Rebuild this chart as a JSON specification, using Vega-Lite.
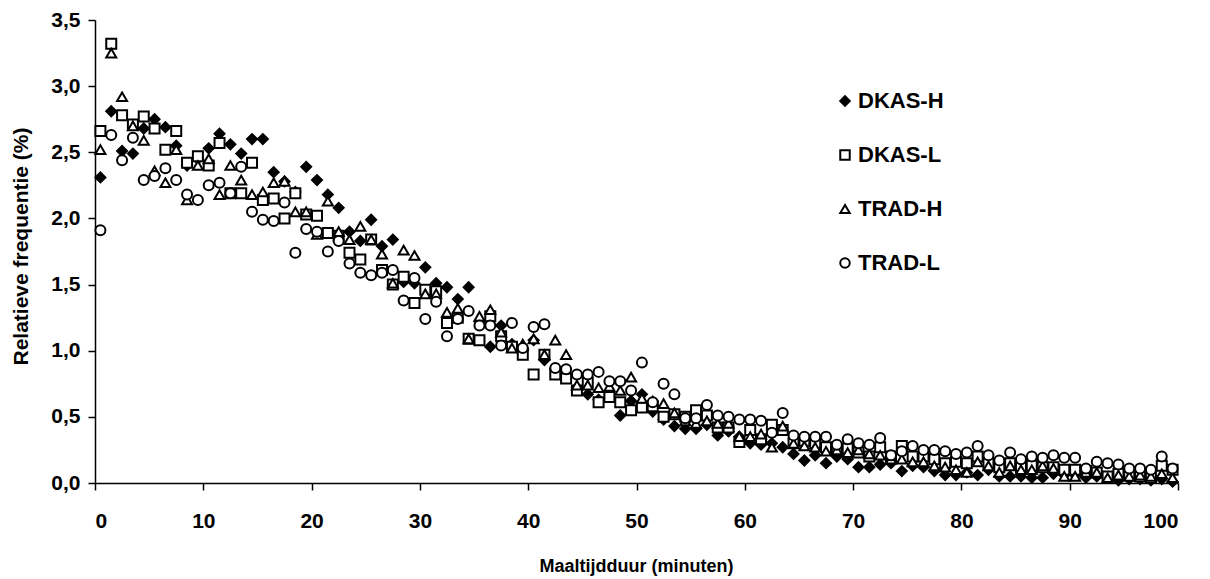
{
  "$schema": "https://vega.github.io/schema/vega-lite/v6.json",
  "autosize": {"type": "none"},
  "padding": {"left": 95, "top": 20, "right": 32, "bottom": 96},
  "width": 1083,
  "height": 463,
  "background": "white",
  "config": {
    "view": {"stroke": null},
    "font": "Liberation Sans",
    "axis": {"grid": false, "domainColor": "black", "tickColor": "black", "domainWidth": 1.5, "tickWidth": 1.5, "labelColor": "black", "titleColor": "black", "labelFontWeight": "bold", "titleFontWeight": "bold", "labelFont": "Liberation Sans", "titleFont": "Liberation Sans"},
    "legend": {"title": null, "orient": "none", "legendX": 739, "legendY": 70, "labelFont": "Liberation Sans", "labelFontSize": 22, "labelFontWeight": "bold", "labelColor": "black", "rowPadding": 32, "symbolSize": 90, "symbolStrokeWidth": 2, "labelOffset": 2}
  },
  "datasets": {
    "punten": [
      {"serie":"DKAS-H","minuut":0.5,"freq":2.31},{"serie":"DKAS-H","minuut":1.5,"freq":2.81},{"serie":"DKAS-H","minuut":2.5,"freq":2.51},{"serie":"DKAS-H","minuut":3.5,"freq":2.49},{"serie":"DKAS-H","minuut":4.5,"freq":2.68},{"serie":"DKAS-H","minuut":5.5,"freq":2.75},{"serie":"DKAS-H","minuut":6.5,"freq":2.69},{"serie":"DKAS-H","minuut":7.5,"freq":2.55},{"serie":"DKAS-H","minuut":8.5,"freq":2.40},{"serie":"DKAS-H","minuut":9.5,"freq":2.45},
      {"serie":"DKAS-H","minuut":10.5,"freq":2.53},{"serie":"DKAS-H","minuut":11.5,"freq":2.64},{"serie":"DKAS-H","minuut":12.5,"freq":2.56},{"serie":"DKAS-H","minuut":13.5,"freq":2.49},{"serie":"DKAS-H","minuut":14.5,"freq":2.60},{"serie":"DKAS-H","minuut":15.5,"freq":2.60},{"serie":"DKAS-H","minuut":16.5,"freq":2.35},{"serie":"DKAS-H","minuut":17.5,"freq":2.28},{"serie":"DKAS-H","minuut":18.5,"freq":2.20},{"serie":"DKAS-H","minuut":19.5,"freq":2.39},
      {"serie":"DKAS-H","minuut":20.5,"freq":2.29},{"serie":"DKAS-H","minuut":21.5,"freq":2.18},{"serie":"DKAS-H","minuut":22.5,"freq":2.08},{"serie":"DKAS-H","minuut":23.5,"freq":1.90},{"serie":"DKAS-H","minuut":24.5,"freq":1.83},{"serie":"DKAS-H","minuut":25.5,"freq":1.99},{"serie":"DKAS-H","minuut":26.5,"freq":1.79},{"serie":"DKAS-H","minuut":27.5,"freq":1.84},{"serie":"DKAS-H","minuut":28.5,"freq":1.52},{"serie":"DKAS-H","minuut":29.5,"freq":1.51},
      {"serie":"DKAS-H","minuut":30.5,"freq":1.63},{"serie":"DKAS-H","minuut":31.5,"freq":1.51},{"serie":"DKAS-H","minuut":32.5,"freq":1.48},{"serie":"DKAS-H","minuut":33.5,"freq":1.39},{"serie":"DKAS-H","minuut":34.5,"freq":1.48},{"serie":"DKAS-H","minuut":35.5,"freq":1.22},{"serie":"DKAS-H","minuut":36.5,"freq":1.03},{"serie":"DKAS-H","minuut":37.5,"freq":1.19},{"serie":"DKAS-H","minuut":38.5,"freq":1.05},{"serie":"DKAS-H","minuut":39.5,"freq":1.00},
      {"serie":"DKAS-H","minuut":40.5,"freq":1.08},{"serie":"DKAS-H","minuut":41.5,"freq":0.93},{"serie":"DKAS-H","minuut":42.5,"freq":0.86},{"serie":"DKAS-H","minuut":43.5,"freq":0.80},{"serie":"DKAS-H","minuut":44.5,"freq":0.72},{"serie":"DKAS-H","minuut":45.5,"freq":0.67},{"serie":"DKAS-H","minuut":46.5,"freq":0.63},{"serie":"DKAS-H","minuut":47.5,"freq":0.67},{"serie":"DKAS-H","minuut":48.5,"freq":0.51},{"serie":"DKAS-H","minuut":49.5,"freq":0.62},
      {"serie":"DKAS-H","minuut":50.5,"freq":0.67},{"serie":"DKAS-H","minuut":51.5,"freq":0.54},{"serie":"DKAS-H","minuut":52.5,"freq":0.48},{"serie":"DKAS-H","minuut":53.5,"freq":0.43},{"serie":"DKAS-H","minuut":54.5,"freq":0.41},{"serie":"DKAS-H","minuut":55.5,"freq":0.41},{"serie":"DKAS-H","minuut":56.5,"freq":0.44},{"serie":"DKAS-H","minuut":57.5,"freq":0.36},{"serie":"DKAS-H","minuut":58.5,"freq":0.39},{"serie":"DKAS-H","minuut":59.5,"freq":0.35},
      {"serie":"DKAS-H","minuut":60.5,"freq":0.30},{"serie":"DKAS-H","minuut":61.5,"freq":0.29},{"serie":"DKAS-H","minuut":62.5,"freq":0.30},{"serie":"DKAS-H","minuut":63.5,"freq":0.27},{"serie":"DKAS-H","minuut":64.5,"freq":0.22},{"serie":"DKAS-H","minuut":65.5,"freq":0.17},{"serie":"DKAS-H","minuut":66.5,"freq":0.21},{"serie":"DKAS-H","minuut":67.5,"freq":0.15},{"serie":"DKAS-H","minuut":68.5,"freq":0.20},{"serie":"DKAS-H","minuut":69.5,"freq":0.18},
      {"serie":"DKAS-H","minuut":70.5,"freq":0.12},{"serie":"DKAS-H","minuut":71.5,"freq":0.12},{"serie":"DKAS-H","minuut":72.5,"freq":0.14},{"serie":"DKAS-H","minuut":73.5,"freq":0.15},{"serie":"DKAS-H","minuut":74.5,"freq":0.09},{"serie":"DKAS-H","minuut":75.5,"freq":0.13},{"serie":"DKAS-H","minuut":76.5,"freq":0.12},{"serie":"DKAS-H","minuut":77.5,"freq":0.09},{"serie":"DKAS-H","minuut":78.5,"freq":0.06},{"serie":"DKAS-H","minuut":79.5,"freq":0.06},
      {"serie":"DKAS-H","minuut":80.5,"freq":0.08},{"serie":"DKAS-H","minuut":81.5,"freq":0.06},{"serie":"DKAS-H","minuut":82.5,"freq":0.10},{"serie":"DKAS-H","minuut":83.5,"freq":0.05},{"serie":"DKAS-H","minuut":84.5,"freq":0.05},{"serie":"DKAS-H","minuut":85.5,"freq":0.05},{"serie":"DKAS-H","minuut":86.5,"freq":0.04},{"serie":"DKAS-H","minuut":87.5,"freq":0.04},{"serie":"DKAS-H","minuut":88.5,"freq":0.07},{"serie":"DKAS-H","minuut":89.5,"freq":0.06},
      {"serie":"DKAS-H","minuut":90.5,"freq":0.06},{"serie":"DKAS-H","minuut":91.5,"freq":0.04},{"serie":"DKAS-H","minuut":92.5,"freq":0.05},{"serie":"DKAS-H","minuut":93.5,"freq":0.04},{"serie":"DKAS-H","minuut":94.5,"freq":0.02},{"serie":"DKAS-H","minuut":95.5,"freq":0.03},{"serie":"DKAS-H","minuut":96.5,"freq":0.03},{"serie":"DKAS-H","minuut":97.5,"freq":0.02},{"serie":"DKAS-H","minuut":98.5,"freq":0.03},{"serie":"DKAS-H","minuut":99.5,"freq":0.01},

      {"serie":"DKAS-L","minuut":0.5,"freq":2.66},{"serie":"DKAS-L","minuut":1.5,"freq":3.32},{"serie":"DKAS-L","minuut":2.5,"freq":2.78},{"serie":"DKAS-L","minuut":3.5,"freq":2.71},{"serie":"DKAS-L","minuut":4.5,"freq":2.77},{"serie":"DKAS-L","minuut":5.5,"freq":2.68},{"serie":"DKAS-L","minuut":6.5,"freq":2.52},{"serie":"DKAS-L","minuut":7.5,"freq":2.66},{"serie":"DKAS-L","minuut":8.5,"freq":2.42},{"serie":"DKAS-L","minuut":9.5,"freq":2.47},
      {"serie":"DKAS-L","minuut":10.5,"freq":2.40},{"serie":"DKAS-L","minuut":11.5,"freq":2.57},{"serie":"DKAS-L","minuut":12.5,"freq":2.19},{"serie":"DKAS-L","minuut":13.5,"freq":2.19},{"serie":"DKAS-L","minuut":14.5,"freq":2.42},{"serie":"DKAS-L","minuut":15.5,"freq":2.14},{"serie":"DKAS-L","minuut":16.5,"freq":2.15},{"serie":"DKAS-L","minuut":17.5,"freq":2.00},{"serie":"DKAS-L","minuut":18.5,"freq":2.19},{"serie":"DKAS-L","minuut":19.5,"freq":2.03},
      {"serie":"DKAS-L","minuut":20.5,"freq":2.02},{"serie":"DKAS-L","minuut":21.5,"freq":1.89},{"serie":"DKAS-L","minuut":22.5,"freq":1.87},{"serie":"DKAS-L","minuut":23.5,"freq":1.74},{"serie":"DKAS-L","minuut":24.5,"freq":1.69},{"serie":"DKAS-L","minuut":25.5,"freq":1.84},{"serie":"DKAS-L","minuut":26.5,"freq":1.61},{"serie":"DKAS-L","minuut":27.5,"freq":1.50},{"serie":"DKAS-L","minuut":28.5,"freq":1.56},{"serie":"DKAS-L","minuut":29.5,"freq":1.36},
      {"serie":"DKAS-L","minuut":30.5,"freq":1.46},{"serie":"DKAS-L","minuut":31.5,"freq":1.45},{"serie":"DKAS-L","minuut":32.5,"freq":1.21},{"serie":"DKAS-L","minuut":33.5,"freq":1.25},{"serie":"DKAS-L","minuut":34.5,"freq":1.09},{"serie":"DKAS-L","minuut":35.5,"freq":1.08},{"serie":"DKAS-L","minuut":36.5,"freq":1.26},{"serie":"DKAS-L","minuut":37.5,"freq":1.11},{"serie":"DKAS-L","minuut":38.5,"freq":1.03},{"serie":"DKAS-L","minuut":39.5,"freq":0.97},
      {"serie":"DKAS-L","minuut":40.5,"freq":0.82},{"serie":"DKAS-L","minuut":41.5,"freq":0.97},{"serie":"DKAS-L","minuut":42.5,"freq":0.82},{"serie":"DKAS-L","minuut":43.5,"freq":0.79},{"serie":"DKAS-L","minuut":44.5,"freq":0.70},{"serie":"DKAS-L","minuut":45.5,"freq":0.76},{"serie":"DKAS-L","minuut":46.5,"freq":0.61},{"serie":"DKAS-L","minuut":47.5,"freq":0.65},{"serie":"DKAS-L","minuut":48.5,"freq":0.61},{"serie":"DKAS-L","minuut":49.5,"freq":0.55},
      {"serie":"DKAS-L","minuut":50.5,"freq":0.57},{"serie":"DKAS-L","minuut":51.5,"freq":0.58},{"serie":"DKAS-L","minuut":52.5,"freq":0.50},{"serie":"DKAS-L","minuut":53.5,"freq":0.52},{"serie":"DKAS-L","minuut":54.5,"freq":0.50},{"serie":"DKAS-L","minuut":55.5,"freq":0.55},{"serie":"DKAS-L","minuut":56.5,"freq":0.51},{"serie":"DKAS-L","minuut":57.5,"freq":0.42},{"serie":"DKAS-L","minuut":58.5,"freq":0.42},{"serie":"DKAS-L","minuut":59.5,"freq":0.31},
      {"serie":"DKAS-L","minuut":60.5,"freq":0.40},{"serie":"DKAS-L","minuut":61.5,"freq":0.33},{"serie":"DKAS-L","minuut":62.5,"freq":0.44},{"serie":"DKAS-L","minuut":63.5,"freq":0.40},{"serie":"DKAS-L","minuut":64.5,"freq":0.30},{"serie":"DKAS-L","minuut":65.5,"freq":0.32},{"serie":"DKAS-L","minuut":66.5,"freq":0.30},{"serie":"DKAS-L","minuut":67.5,"freq":0.27},{"serie":"DKAS-L","minuut":68.5,"freq":0.25},{"serie":"DKAS-L","minuut":69.5,"freq":0.26},
      {"serie":"DKAS-L","minuut":70.5,"freq":0.23},{"serie":"DKAS-L","minuut":71.5,"freq":0.20},{"serie":"DKAS-L","minuut":72.5,"freq":0.27},{"serie":"DKAS-L","minuut":73.5,"freq":0.20},{"serie":"DKAS-L","minuut":74.5,"freq":0.28},{"serie":"DKAS-L","minuut":75.5,"freq":0.20},{"serie":"DKAS-L","minuut":76.5,"freq":0.20},{"serie":"DKAS-L","minuut":77.5,"freq":0.18},{"serie":"DKAS-L","minuut":78.5,"freq":0.15},{"serie":"DKAS-L","minuut":79.5,"freq":0.16},
      {"serie":"DKAS-L","minuut":80.5,"freq":0.15},{"serie":"DKAS-L","minuut":81.5,"freq":0.20},{"serie":"DKAS-L","minuut":82.5,"freq":0.15},{"serie":"DKAS-L","minuut":83.5,"freq":0.12},{"serie":"DKAS-L","minuut":84.5,"freq":0.15},{"serie":"DKAS-L","minuut":85.5,"freq":0.12},{"serie":"DKAS-L","minuut":86.5,"freq":0.13},{"serie":"DKAS-L","minuut":87.5,"freq":0.12},{"serie":"DKAS-L","minuut":88.5,"freq":0.12},{"serie":"DKAS-L","minuut":89.5,"freq":0.10},
      {"serie":"DKAS-L","minuut":90.5,"freq":0.10},{"serie":"DKAS-L","minuut":91.5,"freq":0.09},{"serie":"DKAS-L","minuut":92.5,"freq":0.08},{"serie":"DKAS-L","minuut":93.5,"freq":0.05},{"serie":"DKAS-L","minuut":94.5,"freq":0.07},{"serie":"DKAS-L","minuut":95.5,"freq":0.06},{"serie":"DKAS-L","minuut":96.5,"freq":0.05},{"serie":"DKAS-L","minuut":97.5,"freq":0.04},{"serie":"DKAS-L","minuut":98.5,"freq":0.13},{"serie":"DKAS-L","minuut":99.5,"freq":0.10},

      {"serie":"TRAD-H","minuut":0.5,"freq":2.52},{"serie":"TRAD-H","minuut":1.5,"freq":3.25},{"serie":"TRAD-H","minuut":2.5,"freq":2.92},{"serie":"TRAD-H","minuut":3.5,"freq":2.70},{"serie":"TRAD-H","minuut":4.5,"freq":2.59},{"serie":"TRAD-H","minuut":5.5,"freq":2.36},{"serie":"TRAD-H","minuut":6.5,"freq":2.27},{"serie":"TRAD-H","minuut":7.5,"freq":2.52},{"serie":"TRAD-H","minuut":8.5,"freq":2.14},{"serie":"TRAD-H","minuut":9.5,"freq":2.40},
      {"serie":"TRAD-H","minuut":10.5,"freq":2.45},{"serie":"TRAD-H","minuut":11.5,"freq":2.18},{"serie":"TRAD-H","minuut":12.5,"freq":2.40},{"serie":"TRAD-H","minuut":13.5,"freq":2.29},{"serie":"TRAD-H","minuut":14.5,"freq":2.18},{"serie":"TRAD-H","minuut":15.5,"freq":2.20},{"serie":"TRAD-H","minuut":16.5,"freq":2.27},{"serie":"TRAD-H","minuut":17.5,"freq":2.28},{"serie":"TRAD-H","minuut":18.5,"freq":2.05},{"serie":"TRAD-H","minuut":19.5,"freq":2.05},
      {"serie":"TRAD-H","minuut":20.5,"freq":1.88},{"serie":"TRAD-H","minuut":21.5,"freq":2.13},{"serie":"TRAD-H","minuut":22.5,"freq":1.90},{"serie":"TRAD-H","minuut":23.5,"freq":1.84},{"serie":"TRAD-H","minuut":24.5,"freq":1.94},{"serie":"TRAD-H","minuut":25.5,"freq":1.84},{"serie":"TRAD-H","minuut":26.5,"freq":1.73},{"serie":"TRAD-H","minuut":27.5,"freq":1.51},{"serie":"TRAD-H","minuut":28.5,"freq":1.76},{"serie":"TRAD-H","minuut":29.5,"freq":1.72},
      {"serie":"TRAD-H","minuut":30.5,"freq":1.43},{"serie":"TRAD-H","minuut":31.5,"freq":1.43},{"serie":"TRAD-H","minuut":32.5,"freq":1.29},{"serie":"TRAD-H","minuut":33.5,"freq":1.32},{"serie":"TRAD-H","minuut":34.5,"freq":1.09},{"serie":"TRAD-H","minuut":35.5,"freq":1.26},{"serie":"TRAD-H","minuut":36.5,"freq":1.31},{"serie":"TRAD-H","minuut":37.5,"freq":1.14},{"serie":"TRAD-H","minuut":38.5,"freq":1.02},{"serie":"TRAD-H","minuut":39.5,"freq":1.05},
      {"serie":"TRAD-H","minuut":40.5,"freq":1.09},{"serie":"TRAD-H","minuut":41.5,"freq":0.97},{"serie":"TRAD-H","minuut":42.5,"freq":1.08},{"serie":"TRAD-H","minuut":43.5,"freq":0.97},{"serie":"TRAD-H","minuut":44.5,"freq":0.74},{"serie":"TRAD-H","minuut":45.5,"freq":0.74},{"serie":"TRAD-H","minuut":46.5,"freq":0.72},{"serie":"TRAD-H","minuut":47.5,"freq":0.73},{"serie":"TRAD-H","minuut":48.5,"freq":0.70},{"serie":"TRAD-H","minuut":49.5,"freq":0.80},
      {"serie":"TRAD-H","minuut":50.5,"freq":0.64},{"serie":"TRAD-H","minuut":51.5,"freq":0.62},{"serie":"TRAD-H","minuut":52.5,"freq":0.60},{"serie":"TRAD-H","minuut":53.5,"freq":0.53},{"serie":"TRAD-H","minuut":54.5,"freq":0.47},{"serie":"TRAD-H","minuut":55.5,"freq":0.45},{"serie":"TRAD-H","minuut":56.5,"freq":0.47},{"serie":"TRAD-H","minuut":57.5,"freq":0.45},{"serie":"TRAD-H","minuut":58.5,"freq":0.45},{"serie":"TRAD-H","minuut":59.5,"freq":0.35},
      {"serie":"TRAD-H","minuut":60.5,"freq":0.35},{"serie":"TRAD-H","minuut":61.5,"freq":0.37},{"serie":"TRAD-H","minuut":62.5,"freq":0.27},{"serie":"TRAD-H","minuut":63.5,"freq":0.43},{"serie":"TRAD-H","minuut":64.5,"freq":0.30},{"serie":"TRAD-H","minuut":65.5,"freq":0.28},{"serie":"TRAD-H","minuut":66.5,"freq":0.27},{"serie":"TRAD-H","minuut":67.5,"freq":0.24},{"serie":"TRAD-H","minuut":68.5,"freq":0.25},{"serie":"TRAD-H","minuut":69.5,"freq":0.23},
      {"serie":"TRAD-H","minuut":70.5,"freq":0.25},{"serie":"TRAD-H","minuut":71.5,"freq":0.22},{"serie":"TRAD-H","minuut":72.5,"freq":0.21},{"serie":"TRAD-H","minuut":73.5,"freq":0.18},{"serie":"TRAD-H","minuut":74.5,"freq":0.18},{"serie":"TRAD-H","minuut":75.5,"freq":0.16},{"serie":"TRAD-H","minuut":76.5,"freq":0.16},{"serie":"TRAD-H","minuut":77.5,"freq":0.13},{"serie":"TRAD-H","minuut":78.5,"freq":0.12},{"serie":"TRAD-H","minuut":79.5,"freq":0.10},
      {"serie":"TRAD-H","minuut":80.5,"freq":0.08},{"serie":"TRAD-H","minuut":81.5,"freq":0.16},{"serie":"TRAD-H","minuut":82.5,"freq":0.13},{"serie":"TRAD-H","minuut":83.5,"freq":0.08},{"serie":"TRAD-H","minuut":84.5,"freq":0.13},{"serie":"TRAD-H","minuut":85.5,"freq":0.10},{"serie":"TRAD-H","minuut":86.5,"freq":0.10},{"serie":"TRAD-H","minuut":87.5,"freq":0.13},{"serie":"TRAD-H","minuut":88.5,"freq":0.11},{"serie":"TRAD-H","minuut":89.5,"freq":0.05},
      {"serie":"TRAD-H","minuut":90.5,"freq":0.05},{"serie":"TRAD-H","minuut":91.5,"freq":0.08},{"serie":"TRAD-H","minuut":92.5,"freq":0.08},{"serie":"TRAD-H","minuut":93.5,"freq":0.04},{"serie":"TRAD-H","minuut":94.5,"freq":0.06},{"serie":"TRAD-H","minuut":95.5,"freq":0.05},{"serie":"TRAD-H","minuut":96.5,"freq":0.06},{"serie":"TRAD-H","minuut":97.5,"freq":0.05},{"serie":"TRAD-H","minuut":98.5,"freq":0.07},{"serie":"TRAD-H","minuut":99.5,"freq":0.04},

      {"serie":"TRAD-L","minuut":0.5,"freq":1.91},{"serie":"TRAD-L","minuut":1.5,"freq":2.63},{"serie":"TRAD-L","minuut":2.5,"freq":2.44},{"serie":"TRAD-L","minuut":3.5,"freq":2.61},{"serie":"TRAD-L","minuut":4.5,"freq":2.29},{"serie":"TRAD-L","minuut":5.5,"freq":2.32},{"serie":"TRAD-L","minuut":6.5,"freq":2.38},{"serie":"TRAD-L","minuut":7.5,"freq":2.29},{"serie":"TRAD-L","minuut":8.5,"freq":2.18},{"serie":"TRAD-L","minuut":9.5,"freq":2.14},
      {"serie":"TRAD-L","minuut":10.5,"freq":2.25},{"serie":"TRAD-L","minuut":11.5,"freq":2.27},{"serie":"TRAD-L","minuut":12.5,"freq":2.19},{"serie":"TRAD-L","minuut":13.5,"freq":2.39},{"serie":"TRAD-L","minuut":14.5,"freq":2.05},{"serie":"TRAD-L","minuut":15.5,"freq":1.99},{"serie":"TRAD-L","minuut":16.5,"freq":1.98},{"serie":"TRAD-L","minuut":17.5,"freq":2.12},{"serie":"TRAD-L","minuut":18.5,"freq":1.74},{"serie":"TRAD-L","minuut":19.5,"freq":1.92},
      {"serie":"TRAD-L","minuut":20.5,"freq":1.90},{"serie":"TRAD-L","minuut":21.5,"freq":1.75},{"serie":"TRAD-L","minuut":22.5,"freq":1.83},{"serie":"TRAD-L","minuut":23.5,"freq":1.66},{"serie":"TRAD-L","minuut":24.5,"freq":1.59},{"serie":"TRAD-L","minuut":25.5,"freq":1.57},{"serie":"TRAD-L","minuut":26.5,"freq":1.59},{"serie":"TRAD-L","minuut":27.5,"freq":1.61},{"serie":"TRAD-L","minuut":28.5,"freq":1.38},{"serie":"TRAD-L","minuut":29.5,"freq":1.55},
      {"serie":"TRAD-L","minuut":30.5,"freq":1.24},{"serie":"TRAD-L","minuut":31.5,"freq":1.37},{"serie":"TRAD-L","minuut":32.5,"freq":1.11},{"serie":"TRAD-L","minuut":33.5,"freq":1.24},{"serie":"TRAD-L","minuut":34.5,"freq":1.30},{"serie":"TRAD-L","minuut":35.5,"freq":1.19},{"serie":"TRAD-L","minuut":36.5,"freq":1.19},{"serie":"TRAD-L","minuut":37.5,"freq":1.04},{"serie":"TRAD-L","minuut":38.5,"freq":1.21},{"serie":"TRAD-L","minuut":39.5,"freq":1.02},
      {"serie":"TRAD-L","minuut":40.5,"freq":1.18},{"serie":"TRAD-L","minuut":41.5,"freq":1.20},{"serie":"TRAD-L","minuut":42.5,"freq":0.87},{"serie":"TRAD-L","minuut":43.5,"freq":0.86},{"serie":"TRAD-L","minuut":44.5,"freq":0.82},{"serie":"TRAD-L","minuut":45.5,"freq":0.82},{"serie":"TRAD-L","minuut":46.5,"freq":0.84},{"serie":"TRAD-L","minuut":47.5,"freq":0.77},{"serie":"TRAD-L","minuut":48.5,"freq":0.77},{"serie":"TRAD-L","minuut":49.5,"freq":0.70},
      {"serie":"TRAD-L","minuut":50.5,"freq":0.91},{"serie":"TRAD-L","minuut":51.5,"freq":0.61},{"serie":"TRAD-L","minuut":52.5,"freq":0.75},{"serie":"TRAD-L","minuut":53.5,"freq":0.67},{"serie":"TRAD-L","minuut":54.5,"freq":0.49},{"serie":"TRAD-L","minuut":55.5,"freq":0.49},{"serie":"TRAD-L","minuut":56.5,"freq":0.59},{"serie":"TRAD-L","minuut":57.5,"freq":0.51},{"serie":"TRAD-L","minuut":58.5,"freq":0.50},{"serie":"TRAD-L","minuut":59.5,"freq":0.48},
      {"serie":"TRAD-L","minuut":60.5,"freq":0.48},{"serie":"TRAD-L","minuut":61.5,"freq":0.47},{"serie":"TRAD-L","minuut":62.5,"freq":0.38},{"serie":"TRAD-L","minuut":63.5,"freq":0.53},{"serie":"TRAD-L","minuut":64.5,"freq":0.36},{"serie":"TRAD-L","minuut":65.5,"freq":0.35},{"serie":"TRAD-L","minuut":66.5,"freq":0.35},{"serie":"TRAD-L","minuut":67.5,"freq":0.35},{"serie":"TRAD-L","minuut":68.5,"freq":0.29},{"serie":"TRAD-L","minuut":69.5,"freq":0.33},
      {"serie":"TRAD-L","minuut":70.5,"freq":0.30},{"serie":"TRAD-L","minuut":71.5,"freq":0.29},{"serie":"TRAD-L","minuut":72.5,"freq":0.34},{"serie":"TRAD-L","minuut":73.5,"freq":0.21},{"serie":"TRAD-L","minuut":74.5,"freq":0.24},{"serie":"TRAD-L","minuut":75.5,"freq":0.28},{"serie":"TRAD-L","minuut":76.5,"freq":0.25},{"serie":"TRAD-L","minuut":77.5,"freq":0.25},{"serie":"TRAD-L","minuut":78.5,"freq":0.24},{"serie":"TRAD-L","minuut":79.5,"freq":0.22},
      {"serie":"TRAD-L","minuut":80.5,"freq":0.23},{"serie":"TRAD-L","minuut":81.5,"freq":0.28},{"serie":"TRAD-L","minuut":82.5,"freq":0.21},{"serie":"TRAD-L","minuut":83.5,"freq":0.17},{"serie":"TRAD-L","minuut":84.5,"freq":0.23},{"serie":"TRAD-L","minuut":85.5,"freq":0.18},{"serie":"TRAD-L","minuut":86.5,"freq":0.20},{"serie":"TRAD-L","minuut":87.5,"freq":0.19},{"serie":"TRAD-L","minuut":88.5,"freq":0.21},{"serie":"TRAD-L","minuut":89.5,"freq":0.19},
      {"serie":"TRAD-L","minuut":90.5,"freq":0.19},{"serie":"TRAD-L","minuut":91.5,"freq":0.11},{"serie":"TRAD-L","minuut":92.5,"freq":0.16},{"serie":"TRAD-L","minuut":93.5,"freq":0.15},{"serie":"TRAD-L","minuut":94.5,"freq":0.14},{"serie":"TRAD-L","minuut":95.5,"freq":0.11},{"serie":"TRAD-L","minuut":96.5,"freq":0.11},{"serie":"TRAD-L","minuut":97.5,"freq":0.10},{"serie":"TRAD-L","minuut":98.5,"freq":0.20},{"serie":"TRAD-L","minuut":99.5,"freq":0.11}
    ]
  },
  "data": {"name": "punten"},
  "mark": {"type": "point", "filled": false, "strokeWidth": 2, "opacity": 1, "size": 100},
  "encoding": {
    "x": {
      "field": "minuut", "type": "quantitative",
      "scale": {"domain": [0, 100], "nice": false, "zero": false},
      "axis": {"values": [0,10,20,30,40,50,60,70,80,90,100], "title": "Maaltijdduur (minuten)", "tickSize": 7, "labelPadding": 20, "labelFontSize": 21, "titleFontSize": 18, "titleX": 541, "titleY": 83, "titleBaseline": "middle", "titleAlign": "center"}
    },
    "y": {
      "field": "freq", "type": "quantitative",
      "scale": {"domain": [0, 3.5], "nice": false},
      "axis": {"values": [0,0.5,1,1.5,2,2.5,3,3.5], "labelExpr": "replace(format(datum.value, '.1f'), '.', ',')", "title": "Relatieve frequentie (%)", "tickSize": 7, "labelPadding": 8, "labelFontSize": 21, "titleFontSize": 21, "titleX": -74, "titleY": 226, "titleBaseline": "middle", "titleAlign": "center", "titleAngle": 270}
    },
    "shape": {
      "field": "serie", "type": "nominal",
      "scale": {"domain": ["DKAS-H","DKAS-L","TRAD-H","TRAD-L"], "range": ["diamond","square","triangle-up","circle"]}
    },
    "fill": {
      "field": "serie", "type": "nominal",
      "scale": {"domain": ["DKAS-H","DKAS-L","TRAD-H","TRAD-L"], "range": ["black","white","white","white"]}
    },
    "stroke": {
      "field": "serie", "type": "nominal",
      "scale": {"domain": ["DKAS-H","DKAS-L","TRAD-H","TRAD-L"], "range": ["black","black","black","black"]}
    }
  }
}
